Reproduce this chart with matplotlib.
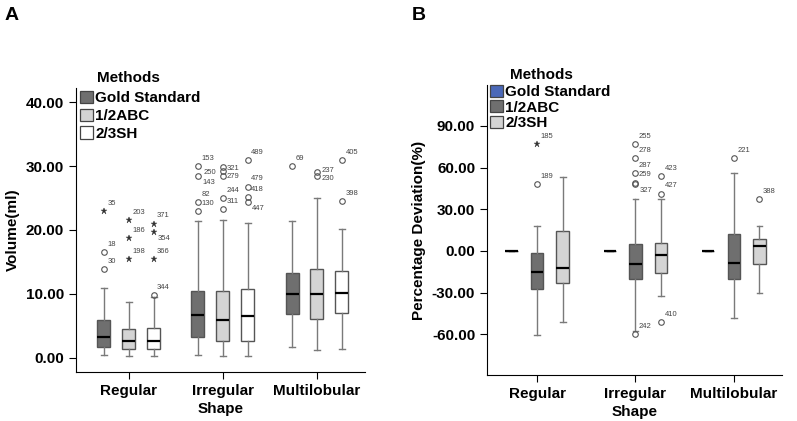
import matplotlib
matplotlib.use("Agg")
import matplotlib.pyplot as plt
from matplotlib.patches import Patch

plt.rcParams["font.family"] = ["Liberation Sans", "DejaVu Sans"]

groups = ["Regular", "Irregular", "Multilobular"]
methods = ["Gold Standard", "1/2ABC", "2/3SH"]

# panel A: volume (ml); rows = shape group, cols = method
vol_whislo = [[0.4, 0.3, 0.3], [0.4, 0.3, 0.3], [1.7, 1.25, 1.4]]
vol_q1 = [[1.66, 1.4, 1.4], [3.28, 2.65, 2.65], [6.8, 6.1, 7.1]]
vol_med = [[3.28, 2.6, 2.7], [6.77, 6.0, 6.6], [9.95, 9.95, 10.2]]
vol_q3 = [[6.0, 4.5, 4.7], [10.5, 10.5, 10.7], [13.3, 13.9, 13.6]]
vol_whishi = [[10.9, 8.75, 9.5], [21.45, 21.6, 21.1], [21.45, 25.0, 20.2]]
# (group, method, value, case id, extreme)
vol_outliers = [
    (0, 0, 22.9, "35", True), (0, 0, 16.6, "18", False), (0, 0, 13.95, "30", False),
    (0, 1, 21.6, "203", True), (0, 1, 18.7, "186", True), (0, 1, 15.4, "198", True),
    (0, 2, 21.0, "371", True), (0, 2, 19.7, "354", True), (0, 2, 15.4, "366", True),
    (0, 2, 9.8, "344", False),
    (1, 0, 30.0, "153", False), (1, 0, 28.5, "143", False), (1, 0, 24.3, "82", False),
    (1, 0, 22.9, "130", False),
    (1, 1, 29.9, "321", False), (1, 1, 29.2, "250", False), (1, 1, 28.4, "279", False),
    (1, 1, 25.0, "244", False), (1, 1, 23.3, "311", False),
    (1, 2, 31.0, "489", False), (1, 2, 26.8, "479", False), (1, 2, 25.1, "418", False),
    (1, 2, 24.4, "447", False),
    (2, 0, 30.0, "69", False),
    (2, 1, 29.1, "237", False), (2, 1, 28.4, "230", False),
    (2, 2, 31.0, "405", False), (2, 2, 24.5, "398", False),
]

# panel B: percentage deviation (%)
dev_whislo = [[0, -60.1, -51.0], [0, -57.5, -32.7], [0, -48.0, -30.3]]
dev_q1 = [[0, -27.2, -22.7], [0, -20.5, -16.0], [0, -20.5, -9.5]]
dev_med = [[0, -14.8, -12.4], [0, -9.3, -3.1], [0, -8.6, 3.6]]
dev_q3 = [[0, -1.7, 14.1], [0, 5.0, 6.0], [0, 11.9, 8.4]]
dev_whishi = [[0, 18.1, 53.5], [0, 37.7, 37.5], [0, 55.8, 18.1]]
dev_outliers = [
    (0, 1, 77.1, "185", True), (0, 1, 48.2, "189", False),
    (1, 1, 77.1, "255", False), (1, 1, 66.8, "278", False), (1, 1, 56.1, "287", False),
    (1, 1, 49.2, "259", False), (1, 1, 48.5, "327", False), (1, 1, -59.6, "242", False),
    (1, 2, 53.7, "423", False), (1, 2, 41.3, "427", False), (1, 2, -51.0, "410", False),
    (2, 1, 66.8, "221", False), (2, 2, 37.5, "388", False),
]

# label offsets (points) that differ from the default up-right placement
label_shift = {"354": (3, -5), "143": (3, -5), "447": (3, -5), "321": (3, -1),
               "279": (3, -0.5), "237": (3, 1), "230": (3, -1.5), "250": (-14, -1),
               "327": (3, -5)}

W, H = 797, 421
fig = plt.figure(figsize=(W / 100, H / 100), dpi=100)


def draw_panel(ax, whislo, q1, med, q3, whishi, outliers, colors, spread, bw):
    stats, pos, faces = [], [], []
    for g in range(3):
        for m in range(3):
            stats.append(dict(whislo=whislo[g][m], q1=q1[g][m], med=med[g][m],
                              q3=q3[g][m], whishi=whishi[g][m], fliers=[]))
            pos.append(g + 1 + (m - 1) * spread)
            faces.append(colors[m])
    bp = ax.bxp(stats, positions=pos, widths=bw, patch_artist=True,
                showfliers=False, capwidths=bw * 0.45,
                boxprops=dict(edgecolor="#555555", linewidth=1.0),
                whiskerprops=dict(color="#7a7a7a", linewidth=1.0),
                capprops=dict(color="#7a7a7a", linewidth=1.0),
                medianprops=dict(color="black", linewidth=1.6))
    for b, c in zip(bp["boxes"], faces):
        b.set_facecolor(c)
    for g, m, v, cid, extreme in outliers:
        x = g + 1 + (m - 1) * spread
        if extreme:
            ax.plot(x, v, marker="*", ms=4.5, color="#333333", mew=0.3)
        else:
            ax.plot(x, v, marker="o", ms=4, mfc="none", mec="#555555", mew=0.8)
        dx, dy = label_shift.get(cid, (2.5, 5.5))
        ax.annotate(cid, (x, v), xytext=(dx, dy), textcoords="offset points",
                    ha="left", va="center", fontsize=5.5, color="#444444")
    ax.set_xticks([1, 2, 3], groups)
    ax.spines[["top", "right"]].set_visible(False)
    ax.tick_params(axis="both", labelsize=11, length=5, width=0.8)
    for lab in ax.get_xticklabels() + ax.get_yticklabels():
        lab.set_fontweight("bold")
    ax.set_xlabel("Shape", fontsize=11, fontweight="bold", labelpad=3)


axA = fig.add_axes([76 / W, 1 - 372 / H, 289 / W, 284 / H])
draw_panel(axA, vol_whislo, vol_q1, vol_med, vol_q3, vol_whishi, vol_outliers,
           ["#6f6f6f", "#d4d4d4", "white"], 0.265, 0.138)
axA.set_xlim(0.44, 3.51)
axA.set_ylim(-2.2, 42.2)
axA.set_yticks([0, 10, 20, 30, 40])
axA.set_yticklabels([f"{t:.2f}" for t in [0, 10, 20, 30, 40]], fontweight="bold")
axA.set_ylabel("Volume(ml)", fontsize=11, fontweight="bold", labelpad=4)

axB = fig.add_axes([487 / W, 1 - 375 / H, 295 / W, 290 / H])
draw_panel(axB, dev_whislo, dev_q1, dev_med, dev_q3, dev_whishi, dev_outliers,
           ["#4a68b8", "#6f6f6f", "#d4d4d4"], 0.26, 0.127)
axB.set_xlim(0.49, 3.49)
axB.set_ylim(-89.2, 119.4)
axB.set_yticks([-60, -30, 0, 30, 60, 90])
axB.set_yticklabels([f"{t:.2f}" for t in [-60, -30, 0, 30, 60, 90]], fontweight="bold")
axB.set_ylabel("Percentage Deviation(%)", fontsize=11, fontweight="bold", labelpad=4)

# legends
for cols, (lx, ly), spacing in [
    (["#6f6f6f", "#d4d4d4", "white"], (80, 91), 0.22),
    (["#4a68b8", "#6f6f6f", "#d4d4d4"], (490, 85), 0.06),
]:
    handles = [Patch(facecolor=c, edgecolor="#444444", linewidth=0.9) for c in cols]
    fig.legend(handles, methods, loc="upper left",
               bbox_to_anchor=(lx / W, 1 - ly / H), frameon=False,
               prop=dict(size=11, weight="bold"), handlelength=0.85,
               handleheight=0.85, handletextpad=0.15, labelspacing=spacing,
               borderpad=0, borderaxespad=0)

fig.text(97 / W, 1 - 78 / H, "Methods", fontsize=11, fontweight="bold", va="center")
fig.text(510 / W, 1 - 75 / H, "Methods", fontsize=11, fontweight="bold", va="center")
fig.text(5 / W, 1 - 15 / H, "A", fontsize=14, fontweight="bold", va="center")
fig.text(412 / W, 1 - 15 / H, "B", fontsize=14, fontweight="bold", va="center")

fig.savefig("out.png", dpi=100)
